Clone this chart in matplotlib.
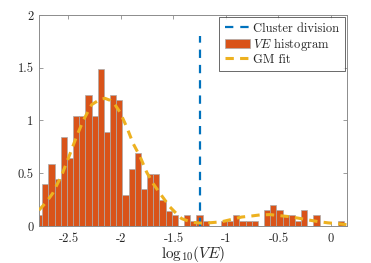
import matplotlib
matplotlib.use("Agg")
import matplotlib.pyplot as plt
import numpy as np

# ---- data ----
bin_start = -2.808
bin_width = 0.0587
hist_density = [0.10, 0.40, 0.59, 0.445, 0.84, 0.645, 1.04, 1.04, 1.24, 1.04,
                1.49, 0.89, 1.24, 1.19, 0.29, 0.54, 0.69, 0.35, 0.49, 0.49,
                0.25, 0.145, 0.10, 0.0, 0.10, 0.05, 0.10, 0.05, 0.0, 0.0,
                0.05, 0.05, 0.10, 0.05, 0.05, 0.05, 0.0, 0.15, 0.20, 0.15,
                0.10, 0.10, 0.05, 0.15, 0.0, 0.10, 0.0, 0.0, 0.0, 0.05]

gm_x = [-2.781, -2.708, -2.650, -2.565, -2.502, -2.422, -2.359, -2.279, -2.200,
        -2.152, -2.100, -2.057, -2.010, -1.946, -1.883, -1.819, -1.755, -1.692,
        -1.629, -1.533, -1.454, -1.422, -1.327, -1.231, -1.136, -1.041, -0.936,
        -0.850, -0.755, -0.676, -0.581, -0.505, -0.410, -0.314, -0.219, -0.124,
        -0.029, 0.086, 0.152]
gm_y = [0.15, 0.23, 0.31, 0.48, 0.64, 0.85, 1.00, 1.15, 1.20,
        1.21, 1.19, 1.15, 1.08, 0.94, 0.78, 0.66, 0.51, 0.40,
        0.31, 0.18, 0.10, 0.07, 0.035, 0.027, 0.032, 0.040, 0.065,
        0.085, 0.095, 0.105, 0.108, 0.100, 0.090, 0.075, 0.058, 0.042,
        0.030, 0.020, 0.012]

cluster_x = -1.25
cluster_top = 1.8

xticks = [-2.5, -2.0, -1.5, -1.0, -0.5, 0.0]
xticklabels = ["-2.5", "-2", "-1.5", "-1", "-0.5", "0"]
yticks = [0, 0.5, 1.0, 1.5, 2.0]
yticklabels = ["0", "0.5", "1", "1.5", "2"]

# ---- plotting ----
plt.rcParams['mathtext.fontset'] = 'cm'
plt.rcParams['font.family'] = ['cmr10', 'DejaVu Serif']
plt.rcParams['lines.scale_dashes'] = False

fig = plt.figure(figsize=(3.71, 2.63), dpi=100)
ax = fig.add_axes([0.105, 0.1407, 0.83, 0.8023])

edges = bin_start + bin_width * np.arange(len(hist_density))
ax.bar(edges, hist_density, width=bin_width, align='edge',
       color='#D95319', edgecolor='#ababab', linewidth=0.5,
       label=r'$VE$ histogram', zorder=2)

ln_c, = ax.plot([cluster_x, cluster_x], [0, cluster_top], color='#0072BD',
                lw=1.6, label='Cluster division', zorder=3)
ln_c.set_dashes([6, 5])
ln_g, = ax.plot(gm_x, gm_y, color='#EDB120', lw=2.2, label='GM fit', zorder=4)
ln_g.set_dashes([6, 4.5])

ax.set_xlim(-2.781, 0.152)
ax.set_ylim(0, 2)
ax.set_xticks(xticks)
ax.set_xticklabels(xticklabels)
ax.set_yticks(yticks)
ax.set_yticklabels(yticklabels)

for s in ax.spines.values():
    s.set_color('#8c8c8c')
    s.set_linewidth(0.7)
ax.tick_params(direction='in', length=3, width=0.6, color='#8c8c8c',
               labelcolor='#262626', labelsize=9, top=True, right=True)
ax.tick_params(axis='x', pad=5)
ax.tick_params(axis='y', pad=4)

ax.set_xlabel(r'$\mathrm{log}_{10}(VE)$', fontsize=11, color='#262626')
ax.xaxis.set_label_coords(0.5, -0.086)

handles = [ln_c, ax.containers[0], ln_g]
leg = ax.legend(handles=handles,
                labels=['Cluster division', r'$VE$ histogram', 'GM fit'],
                loc='upper right', fontsize=9, frameon=True, fancybox=False,
                borderaxespad=0.15, borderpad=0.45, labelspacing=0.08,
                handlelength=2.0, handletextpad=0.3)
leg.get_frame().set_edgecolor('#262626')
leg.get_frame().set_linewidth(0.6)
for t in leg.get_texts():
    t.set_color('#262626')

fig.savefig('out.png', dpi=100)
